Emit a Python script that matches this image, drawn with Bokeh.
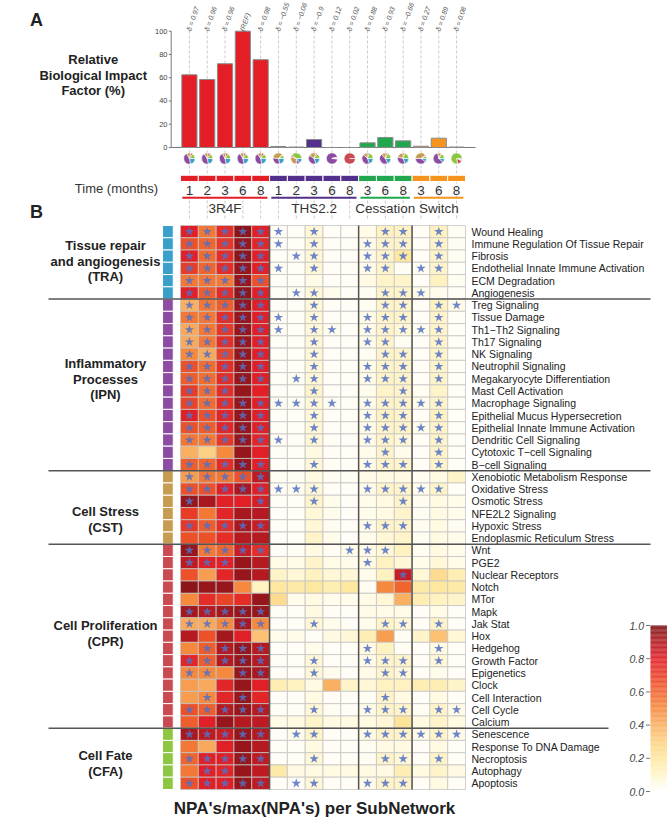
import numpy as np
from bokeh.plotting import figure
from bokeh.models import Range1d, LinearColorMapper, ColumnDataSource
from bokeh.core.properties import value
from bokeh.embed import file_html
from bokeh.resources import INLINE

# ---------------- Panel A data ----------------
months = ["1", "2", "3", "6", "8", "1", "2", "3", "6", "8", "3", "6", "8", "3", "6", "8"]
arms = ["3R4F", "THS2.2", "Cessation", "Switch"]
arm_sizes = [5, 5, 3, 3]
arm_colors = ["#e41e26", "#52308c", "#21a84e", "#f7941e"]
rbif = [62.5, 58.5, 72, 100, 75.5, 0.9, 0.4, 6.9, 0, 0, 4.0, 8.6, 5.7, 1.1, 8.0, 0.4]
deltas = ["δ = 0.97", "δ = 0.96", "δ = 0.96", "(REF)", "δ = 0.98", "δ = −0.55", "δ = −0.06",
          "δ = −0.9", "δ = 0.12", "δ = 0.02", "δ = 0.88", "δ = 0.93", "δ = −0.66", "δ = 0.27",
          "δ = 0.89", "δ = 0.08"]
yticks = [0, 20, 40, 60, 80, 100]
ytick_labels = ["0", "20", "40", "60", "80", "100"]
# pie shares per column (subnetwork contribution)
pie_tra = [.22, .22, .22, .22, .22, .22, .15, .20, .02, 0, .20, .18, .20, .10, .12, .03]
pie_ipn = [.45, .44, .45, .45, .44, .30, .10, .40, .95, 0, .42, .45, .35, .40, .60, .02]
pie_cst = [.12, .12, .11, .12, .12, .35, .30, .20, .01, 0, .12, .15, .20, .40, .10, .02]
pie_cpr = [.06, .07, .07, .06, .07, .03, .05, .05, .01, 1, .06, .05, .05, .03, .03, .15]
pie_cfa = [.15, .15, .15, .15, .15, .10, .40, .15, .01, 0, .20, .17, .20, .07, .15, .78]

# ---------------- Panel B data ----------------
net_codes = ["TRA", "IPN", "CST", "CPR", "CFA"]
net_titles = [["Tissue repair", "and angiogenesis", "(TRA)"],
              ["Inflammatory", "Processes", "(IPN)"],
              ["Cell Stress", "(CST)"],
              ["Cell Proliferation", "(CPR)"],
              ["Cell Fate", "(CFA)"]]
net_colors = ["#3b9fcc", "#8c4ca2", "#c69c50", "#c94a50", "#8dc641"]

tra_names = ["Wound Healing", "Immune Regulation Of Tissue Repair", "Fibrosis",
             "Endothelial Innate Immune Activation", "ECM Degradation", "Angiogenesis"]
tra_npa = [
    [0.80, 0.55, 0.75, 0.97, 0.80, .02, .02, .08, .02, .02, .05, .12, .12, .02, .12, .03],
    [0.65, 0.60, 0.72, 0.95, 0.78, .02, .02, .08, .02, .02, .05, .10, .10, .02, .10, .03],
    [0.80, 0.58, 0.75, 0.97, 0.80, .02, .03, .08, .02, .02, .05, .10, .20, .02, .10, .03],
    [0.70, 0.60, 0.75, 0.95, 0.80, .03, .02, .08, .02, .02, .05, .10, .03, .03, .10, .02],
    [0.55, 0.55, 0.55, 0.95, 0.65, .02, .02, .05, .02, .02, .06, .10, .10, .02, .12, .03],
    [0.80, 0.62, 0.75, 0.97, 0.80, .02, .03, .08, .04, .02, .03, .10, .10, .05, .04, .02],
]
tra_star = ["11111 10100 011 010", "11111 10100 111 010", "11111 01100 111 010",
            "11111 10100 110 110", "11111 00000 000 000", "11111 01100 011 100"]

ipn_names = ["Treg Signaling", "Tissue Damage", "Th1−Th2 Signaling", "Th17 Signaling", "NK Signaling",
             "Neutrophil Signaling", "Megakaryocyte Differentiation", "Mast Cell Activation",
             "Macrophage Signaling", "Epithelial Mucus Hypersecretion",
             "Epithelial Innate Immune Activation", "Dendritic Cell Signaling",
             "Cytotoxic T−cell Signaling", "B−cell Signaling"]
ipn_npa = [
    [0.40, 0.55, 0.62, 0.95, 0.80, .02, .02, .08, .02, .02, .03, .10, .10, .02, .12, .05],
    [0.55, 0.55, 0.75, 0.95, 0.80, .03, .02, .08, .02, .02, .05, .10, .10, .02, .10, .02],
    [0.42, 0.55, 0.72, 0.95, 0.80, .03, .02, .08, .04, .02, .05, .10, .08, .04, .10, .02],
    [0.42, 0.55, 0.75, 0.95, 0.80, .02, .02, .08, .02, .02, .05, .10, .03, .02, .10, .02],
    [0.50, 0.42, 0.68, 0.95, 0.80, .02, .02, .08, .02, .02, .03, .10, .10, .02, .10, .02],
    [0.65, 0.58, 0.75, 0.95, 0.80, .02, .02, .08, .02, .02, .05, .10, .10, .02, .10, .02],
    [0.62, 0.58, 0.75, 0.95, 0.80, .02, .03, .08, .02, .02, .05, .10, .10, .02, .10, .02],
    [0.70, 0.58, 0.75, 0.95, 0.80, .02, .02, .10, .02, .02, .04, .10, .10, .03, .10, .02],
    [0.68, 0.58, 0.75, 0.95, 0.80, .03, .03, .08, .03, .02, .05, .10, .10, .04, .10, .02],
    [0.80, 0.65, 0.78, 0.95, 0.80, .02, .02, .08, .02, .02, .05, .12, .10, .02, .12, .02],
    [0.65, 0.62, 0.78, 0.95, 0.80, .02, .02, .08, .02, .02, .05, .10, .10, .04, .10, .02],
    [0.55, 0.55, 0.72, 0.95, 0.78, .03, .02, .08, .02, .02, .05, .10, .08, .02, .10, .02],
    [0.40, 0.30, 0.50, 0.95, 0.80, .02, .02, .06, .02, .02, .04, .10, .04, .02, .10, .02],
    [0.62, 0.60, 0.75, 0.95, 0.80, .02, .02, .08, .02, .02, .05, .10, .10, .02, .10, .02],
]
ipn_star = ["11111 00100 011 011", "11111 10100 111 010", "11111 10110 111 110",
            "11111 00100 110 010", "11111 00100 011 010", "11111 00100 111 010",
            "11111 01100 111 010", "11100 00100 001 000", "11111 11110 111 110",
            "11111 00100 111 010", "11111 00100 111 110", "11111 10100 111 010",
            "00000 00000 010 010", "11111 00100 111 010"]

cst_names = ["Xenobiotic Metabolism Response", "Oxidative Stress", "Osmotic Stress",
             "NFE2L2 Signaling", "Hypoxic Stress", "Endoplasmic Reticulum Stress"]
cst_npa = [
    [0.45, 0.55, 0.55, 0.65, 0.88, .03, .03, .06, .03, .03, .05, .06, .06, .03, .06, .10],
    [0.65, 0.65, 0.80, 0.92, 0.80, .03, .03, .08, .02, .02, .05, .10, .10, .04, .10, .02],
    [0.95, 0.92, 0.80, 0.80, 0.82, .02, .02, .10, .04, .02, .04, .06, .10, .03, .06, .04],
    [0.70, 0.55, 0.78, 0.92, 0.90, .02, .02, .08, .04, .02, .04, .06, .10, .03, .06, .04],
    [0.72, 0.62, 0.75, 0.92, 0.85, .02, .02, .08, .03, .02, .05, .10, .10, .03, .06, .03],
    [0.65, 0.65, 0.75, 0.90, 0.90, .02, .02, .10, .04, .02, .04, .08, .10, .03, .06, .04],
]
cst_star = ["11111 00000 000 000", "11111 11100 111 110", "10001 00100 001 000",
            "00000 00000 000 000", "11111 00000 111 000", "00000 00000 000 000"]

cpr_names = ["Wnt", "PGE2", "Nuclear Receptors", "Notch", "MTor", "Mapk", "Jak Stat", "Hox",
             "Hedgehog", "Growth Factor", "Epigenetics", "Clock", "Cell Interaction",
             "Cell Cycle", "Calcium"]
cpr_npa = [
    [0.95, 0.55, 0.60, 0.85, 0.75, .02, .02, .06, .03, .05, .05, .08, .12, .03, .06, .04],
    [0.88, 0.80, 0.80, 0.95, 0.90, .05, .05, .10, .05, .04, .06, .12, .08, .04, .08, .05],
    [0.65, 0.45, 0.78, 0.95, 0.90, .10, .08, .12, .08, .08, .04, .12, .85, .08, .25, .15],
    [0.97, 0.95, 0.95, 0.50, 0.12, .20, .18, .20, .15, .20, .03, .50, .60, .18, .20, .18],
    [0.50, 0.75, 0.68, 0.75, 0.95, .25, .04, .06, .04, .04, .05, .08, .40, .15, .12, .10],
    [0.93, 0.90, 0.93, 0.95, 0.95, .02, .02, .06, .02, .02, .05, .05, .05, .02, .05, .02],
    [0.42, 0.42, 0.50, 0.92, 0.50, .02, .02, .08, .04, .02, .04, .10, .08, .02, .10, .02],
    [0.90, 0.65, 0.93, 0.80, 0.35, .04, .04, .02, .06, .08, .15, .45, .03, .10, .35, .08],
    [0.50, 0.62, 0.90, 0.95, 0.90, .02, .02, .04, .02, .02, .06, .12, .03, .02, .06, .02],
    [0.78, 0.62, 0.90, 0.95, 0.90, .02, .02, .08, .02, .02, .05, .10, .10, .02, .08, .02],
    [0.50, 0.50, 0.50, 0.95, 0.92, .02, .02, .08, .04, .02, .05, .10, .08, .02, .04, .02],
    [0.45, 0.42, 0.78, 0.95, 0.80, .15, .12, .06, .40, .10, .08, .12, .12, .15, .15, .10],
    [0.45, 0.50, 0.78, 0.95, 0.78, .02, .02, .06, .02, .02, .03, .10, .06, .02, .06, .02],
    [0.65, 0.62, 0.90, 0.95, 0.90, .02, .02, .08, .03, .02, .05, .10, .10, .03, .10, .05],
    [0.62, 0.80, 0.95, 0.90, 0.88, .05, .06, .10, .06, .06, .06, .08, .22, .06, .10, .06],
]
cpr_star = ["11111 00001 110 000", "11100 00000 100 000", "00000 00000 001 000",
            "00000 00000 000 000", "00000 00000 000 000", "11111 00000 000 000",
            "11111 00100 011 010", "00000 00000 000 000", "01111 00000 100 010",
            "11111 00100 111 010", "11011 00100 011 000", "00000 00000 000 000",
            "01010 00000 010 000", "11111 00100 111 011", "00000 00000 000 000"]

cfa_names = ["Senescence", "Response To DNA Damage", "Necroptosis", "Autophagy", "Apoptosis"]
cfa_npa = [
    [0.92, 0.88, 0.85, 0.95, 0.90, .02, .04, .10, .02, .02, .06, .10, .10, .05, .10, .05],
    [0.55, 0.42, 0.80, 0.95, 0.90, .02, .02, .06, .02, .02, .03, .06, .06, .02, .06, .02],
    [0.60, 0.80, 0.80, 0.95, 0.88, .02, .02, .08, .02, .02, .03, .10, .08, .02, .10, .02],
    [0.55, 0.80, 0.78, 0.95, 0.88, .18, .06, .06, .06, .06, .06, .06, .15, .06, .10, .06],
    [0.65, 0.80, 0.80, 0.95, 0.88, .02, .02, .08, .02, .02, .05, .10, .10, .02, .06, .02],
]
cfa_star = ["11111 01100 111 111", "00000 00000 000 000", "11111 00100 011 010",
            "01100 00000 000 000", "11111 01100 111 000"]

cb_ticks = [0.0, 0.2, 0.4, 0.6, 0.8, 1.0]
cb_labels = ["0.0", "0.2", "0.4", "0.6", "0.8", "1.0"]

# ---------------- styling / geometry ----------------
FONT = value("Liberation Sans")
W, H = 667, 817
PX0, PX1, PY0, PY1 = 0.0, float(W), 0.0, float(H)
COL_X0, COL_W = 180.0, 17.8125
ROW_Y0, ROW_H = 225.0, 12.26
BAR_Y0, BAR_TOP = 147.0, 30.7
BAR_K = (BAR_Y0 - BAR_TOP) / 100.0
CB_Y0, CB_K = 791.0, 166.0


def cx(px):
    return (px - COL_X0) / COL_W


def ry(py):
    return (py - ROW_Y0) / ROW_H


def by(py):
    return (BAR_Y0 - py) / BAR_K


anch_v = [0.0, 0.05, 0.1, 0.2, 0.3, 0.4, 0.5, 0.6, 0.7, 0.8, 0.9, 1.0]
anch_c = ["#ffffff", "#fffbe6", "#fff4c8", "#fee8a0", "#fdd183", "#fab062", "#f58a3e",
          "#f0652d", "#e83d27", "#e01f26", "#b51a20", "#7c1317"]
rgb = np.array([[int(c[i:i + 2], 16) for i in (1, 3, 5)] for c in anch_c], float)
tt = np.linspace(0, 1, 256)
pal = ["#%02x%02x%02x" % tuple(int(round(np.interp(t, anch_v, rgb[:, k]))) for k in range(3)) for t in tt]
mapper = LinearColorMapper(palette=pal, low=0, high=1)

p = figure(width=W, height=H,
           x_range=Range1d(cx(PX0), cx(PX1)),
           y_range=Range1d(ry(PY1), ry(PY0)),
           output_backend="svg", toolbar_location=None,
           x_axis_type=None, y_axis_type=None,
           min_border=0, outline_line_color=None,
           background_fill_color="white", border_fill_color="white")
p.grid.visible = False
p.extra_y_ranges = {"bar": Range1d(by(PY1), by(PY0)),
                    "px": Range1d(PY1, PY0),
                    "cb": Range1d((CB_Y0 - PY1) / CB_K, (CB_Y0 - PY0) / CB_K)}
p.extra_x_ranges = {"px": Range1d(PX0, PX1)}

ncol = len(months)
colx = [i + 0.5 for i in range(ncol)]
arm_of_col = []
for a, s in enumerate(arm_sizes):
    arm_of_col += [a] * s
arm_start = list(np.cumsum([0] + arm_sizes[:-1]))

# ---------------- Panel A ----------------
# dashed guide lines
p.segment(x0=colx, y0=[by(30)] * ncol, x1=colx, y1=[by(218)] * ncol, y_range_name="bar",
          line_color="#bdbdbd", line_width=0.8, line_dash="3 2")
# axis + baseline
p.segment(x0=[cx(170.7)], y0=[0], x1=[cx(170.7)], y1=[100], y_range_name="bar",
          line_color="#777777", line_width=1)
p.segment(x0=[cx(170.7)], y0=[0], x1=[cx(475)], y1=[0], y_range_name="bar",
          line_color="#777777", line_width=1)
p.segment(x0=[cx(168.3)] * len(yticks), y0=yticks, x1=[cx(170.7)] * len(yticks), y1=yticks,
          y_range_name="bar", line_color="#777777", line_width=1)
p.text(x=[cx(167)] * len(yticks), y=yticks, text=ytick_labels, y_range_name="bar",
       text_font=FONT, text_font_size="7.5px", text_color="#444444",
       text_align="right", text_baseline="middle")
# bars
p.vbar(x=colx, top=rbif, bottom=0, width=0.85, y_range_name="bar",
       fill_color=[arm_colors[a] for a in arm_of_col], line_color="#8a8a8a", line_width=1)
# delta labels
p.text(x=[c - 0.05 for c in colx], y=[by(30.5)] * ncol, text=deltas, y_range_name="bar",
       angle=np.radians(71), text_font=FONT, text_font_size="7px", text_font_style="italic",
       text_color="#555555", text_align="left", text_baseline="middle")
# pies
pie_sets = [pie_tra, pie_ipn, pie_cst, pie_cpr, pie_cfa]
wx, ws, we, wc = [], [], [], []
for i in range(ncol):
    shares = [s[i] for s in pie_sets]
    tot = float(sum(shares))
    c0 = 0.0
    for k, sh in enumerate(shares):
        if sh <= 0:
            continue
        c1 = c0 + sh / tot
        ws.append(-2 * np.pi * min(c1, 0.99995))
        we.append(-2 * np.pi * c0)
        wx.append(colx[i])
        wc.append(net_colors[k])
        c0 = c1
p.wedge(x=wx, y=[by(158)] * len(wx), radius=5.6, radius_units="screen",
        start_angle=ws, end_angle=we, y_range_name="bar",
        fill_color=wc, line_color="white", line_width=0.6)
# time bar
p.rect(x=colx, y=[by(177.9)] * ncol, width=1, height=6.3 / BAR_K, y_range_name="bar",
       fill_color=[arm_colors[a] for a in arm_of_col], line_color="white", line_width=1)
p.text(x=colx, y=[by(189.5)] * ncol, text=months, y_range_name="bar",
       text_font=FONT, text_font_size="13.5px", text_color="#333333",
       text_align="center", text_baseline="middle")
ux0 = [s + 0.1 for s in arm_start]
ux1 = [s + n - 0.12 for s, n in zip(arm_start, arm_sizes)]
p.segment(x0=ux0, y0=[by(197.3)] * 4, x1=ux1, y1=[by(197.3)] * 4, y_range_name="bar",
          line_color=arm_colors, line_width=2)
p.text(x=[s + n / 2 for s, n in zip(arm_start, arm_sizes)], y=[by(207.7)] * 4, text=arms,
       y_range_name="bar", text_font=FONT, text_font_size="13.5px", text_color="#333333",
       text_align="center", text_baseline="middle")

# panel A / B titles
p.text(x=[36, 36], y=[19, 211], text=["A", "B"], x_range_name="px", y_range_name="px",
       text_font=FONT, text_font_size="18px", text_font_style="bold", text_color="#222222",
       text_align="center", text_baseline="middle")
p.text(x=[92.7] * 3, y=[59, 74.5, 90], text=["Relative", "Biological Impact", "Factor (%)"],
       x_range_name="px", y_range_name="px", text_font=FONT, text_font_size="13px",
       text_font_style="bold", text_color="#222222", text_align="center", text_baseline="middle")
p.text(x=[116], y=[187.5], text=["Time (months)"], x_range_name="px", y_range_name="px",
       text_font=FONT, text_font_size="13px", text_color="#333333",
       text_align="center", text_baseline="middle")

# ---------------- Panel B ----------------
blocks = [(tra_names, tra_npa, tra_star), (ipn_names, ipn_npa, ipn_star),
          (cst_names, cst_npa, cst_star), (cpr_names, cpr_npa, cpr_star),
          (cfa_names, cfa_npa, cfa_star)]
hx, hy, hv, sx, sy, lab, laby, stripy, stripc, bounds = [], [], [], [], [], [], [], [], [], []
row = 0
for g, (names, vals, stars) in enumerate(blocks):
    for r, name in enumerate(names):
        st = stars[r].replace(" ", "")
        for c in range(ncol):
            hx.append(colx[c])
            hy.append(row + 0.5)
            hv.append(vals[r][c])
            if st[c] == "1":
                sx.append(colx[c])
                sy.append(row + 0.5)
        lab.append(name)
        laby.append(row + 0.5)
        stripy.append(row + 0.5)
        stripc.append(net_colors[g])
        row += 1
    bounds.append(row)
nrow = row

p.rect(x="x", y="y", width=1, height=1,
       source=ColumnDataSource(dict(x=hx, y=hy, v=hv)),
       fill_color={"field": "v", "transform": mapper}, line_color="#c4c4c4", line_width=0.8)
p.scatter(x=sx, y=sy, marker="star", size=10, fill_color="#5270c4", fill_alpha=0.85,
          line_color=None)
# side strip
p.rect(x=[cx(167.4)] * nrow, y=stripy, width=10.7 / COL_W, height=1,
       fill_color=stripc, line_color="white", line_width=1)
# arm separators
vb = list(np.cumsum(arm_sizes)[:-1])
p.segment(x0=vb, y0=[0] * len(vb), x1=vb, y1=[nrow] * len(vb), line_color="#555555", line_width=1.5)
# group separators
hb = bounds[:-1]
hx1 = [cx(650) if ROW_Y0 + b * ROW_H < 615 else cx(608) for b in hb]
p.segment(x0=[cx(48)] * len(hb), y0=hb, x1=hx1, y1=hb, line_color="#555555", line_width=1.5)
# row labels
p.text(x=[cx(471)] * nrow, y=laby, text=lab, text_font=FONT, text_font_size="10.5px",
       text_color="#222222", text_align="left", text_baseline="middle")
# group titles
title_y = [[245, 260.5, 276], [363, 378.5, 394], [511, 527], [625, 640.5], [755, 771]]
gt, gy = [], []
for lines, ys in zip(net_titles, title_y):
    gt += lines
    gy += ys
p.text(x=[105] * len(gt), y=gy, text=gt, x_range_name="px", y_range_name="px",
       text_font=FONT, text_font_size="13px", text_font_style="bold", text_color="#222222",
       text_align="center", text_baseline="middle")

# colour bar
cbv = list(np.linspace(0, 1, 201)[:-1] + 0.0025)
p.rect(x="x", y="y", width=17, height=0.0055, x_range_name="px", y_range_name="cb",
       source=ColumnDataSource(dict(x=[658.5] * len(cbv), y=cbv, v=cbv)),
       fill_color={"field": "v", "transform": mapper}, line_color=None)
p.segment(x0=[645.5] * len(cb_ticks), y0=cb_ticks, x1=[649.5] * len(cb_ticks), y1=cb_ticks,
          x_range_name="px", y_range_name="cb", line_color="#555555", line_width=0.8)
p.text(x=[643.5] * len(cb_ticks), y=cb_ticks, text=cb_labels, x_range_name="px", y_range_name="cb",
       text_font=FONT, text_font_size="10.5px", text_font_style="italic", text_color="#444444",
       text_align="right", text_baseline="middle")

# bottom title
p.text(x=[314], y=[808], text=["NPA's/max(NPA's) per SubNetwork"], x_range_name="px",
       y_range_name="px", text_font=FONT, text_font_size="17px", text_font_style="bold",
       text_color="#222222", text_align="center", text_baseline="middle")

open("out.html", "w").write(file_html(p, INLINE))
